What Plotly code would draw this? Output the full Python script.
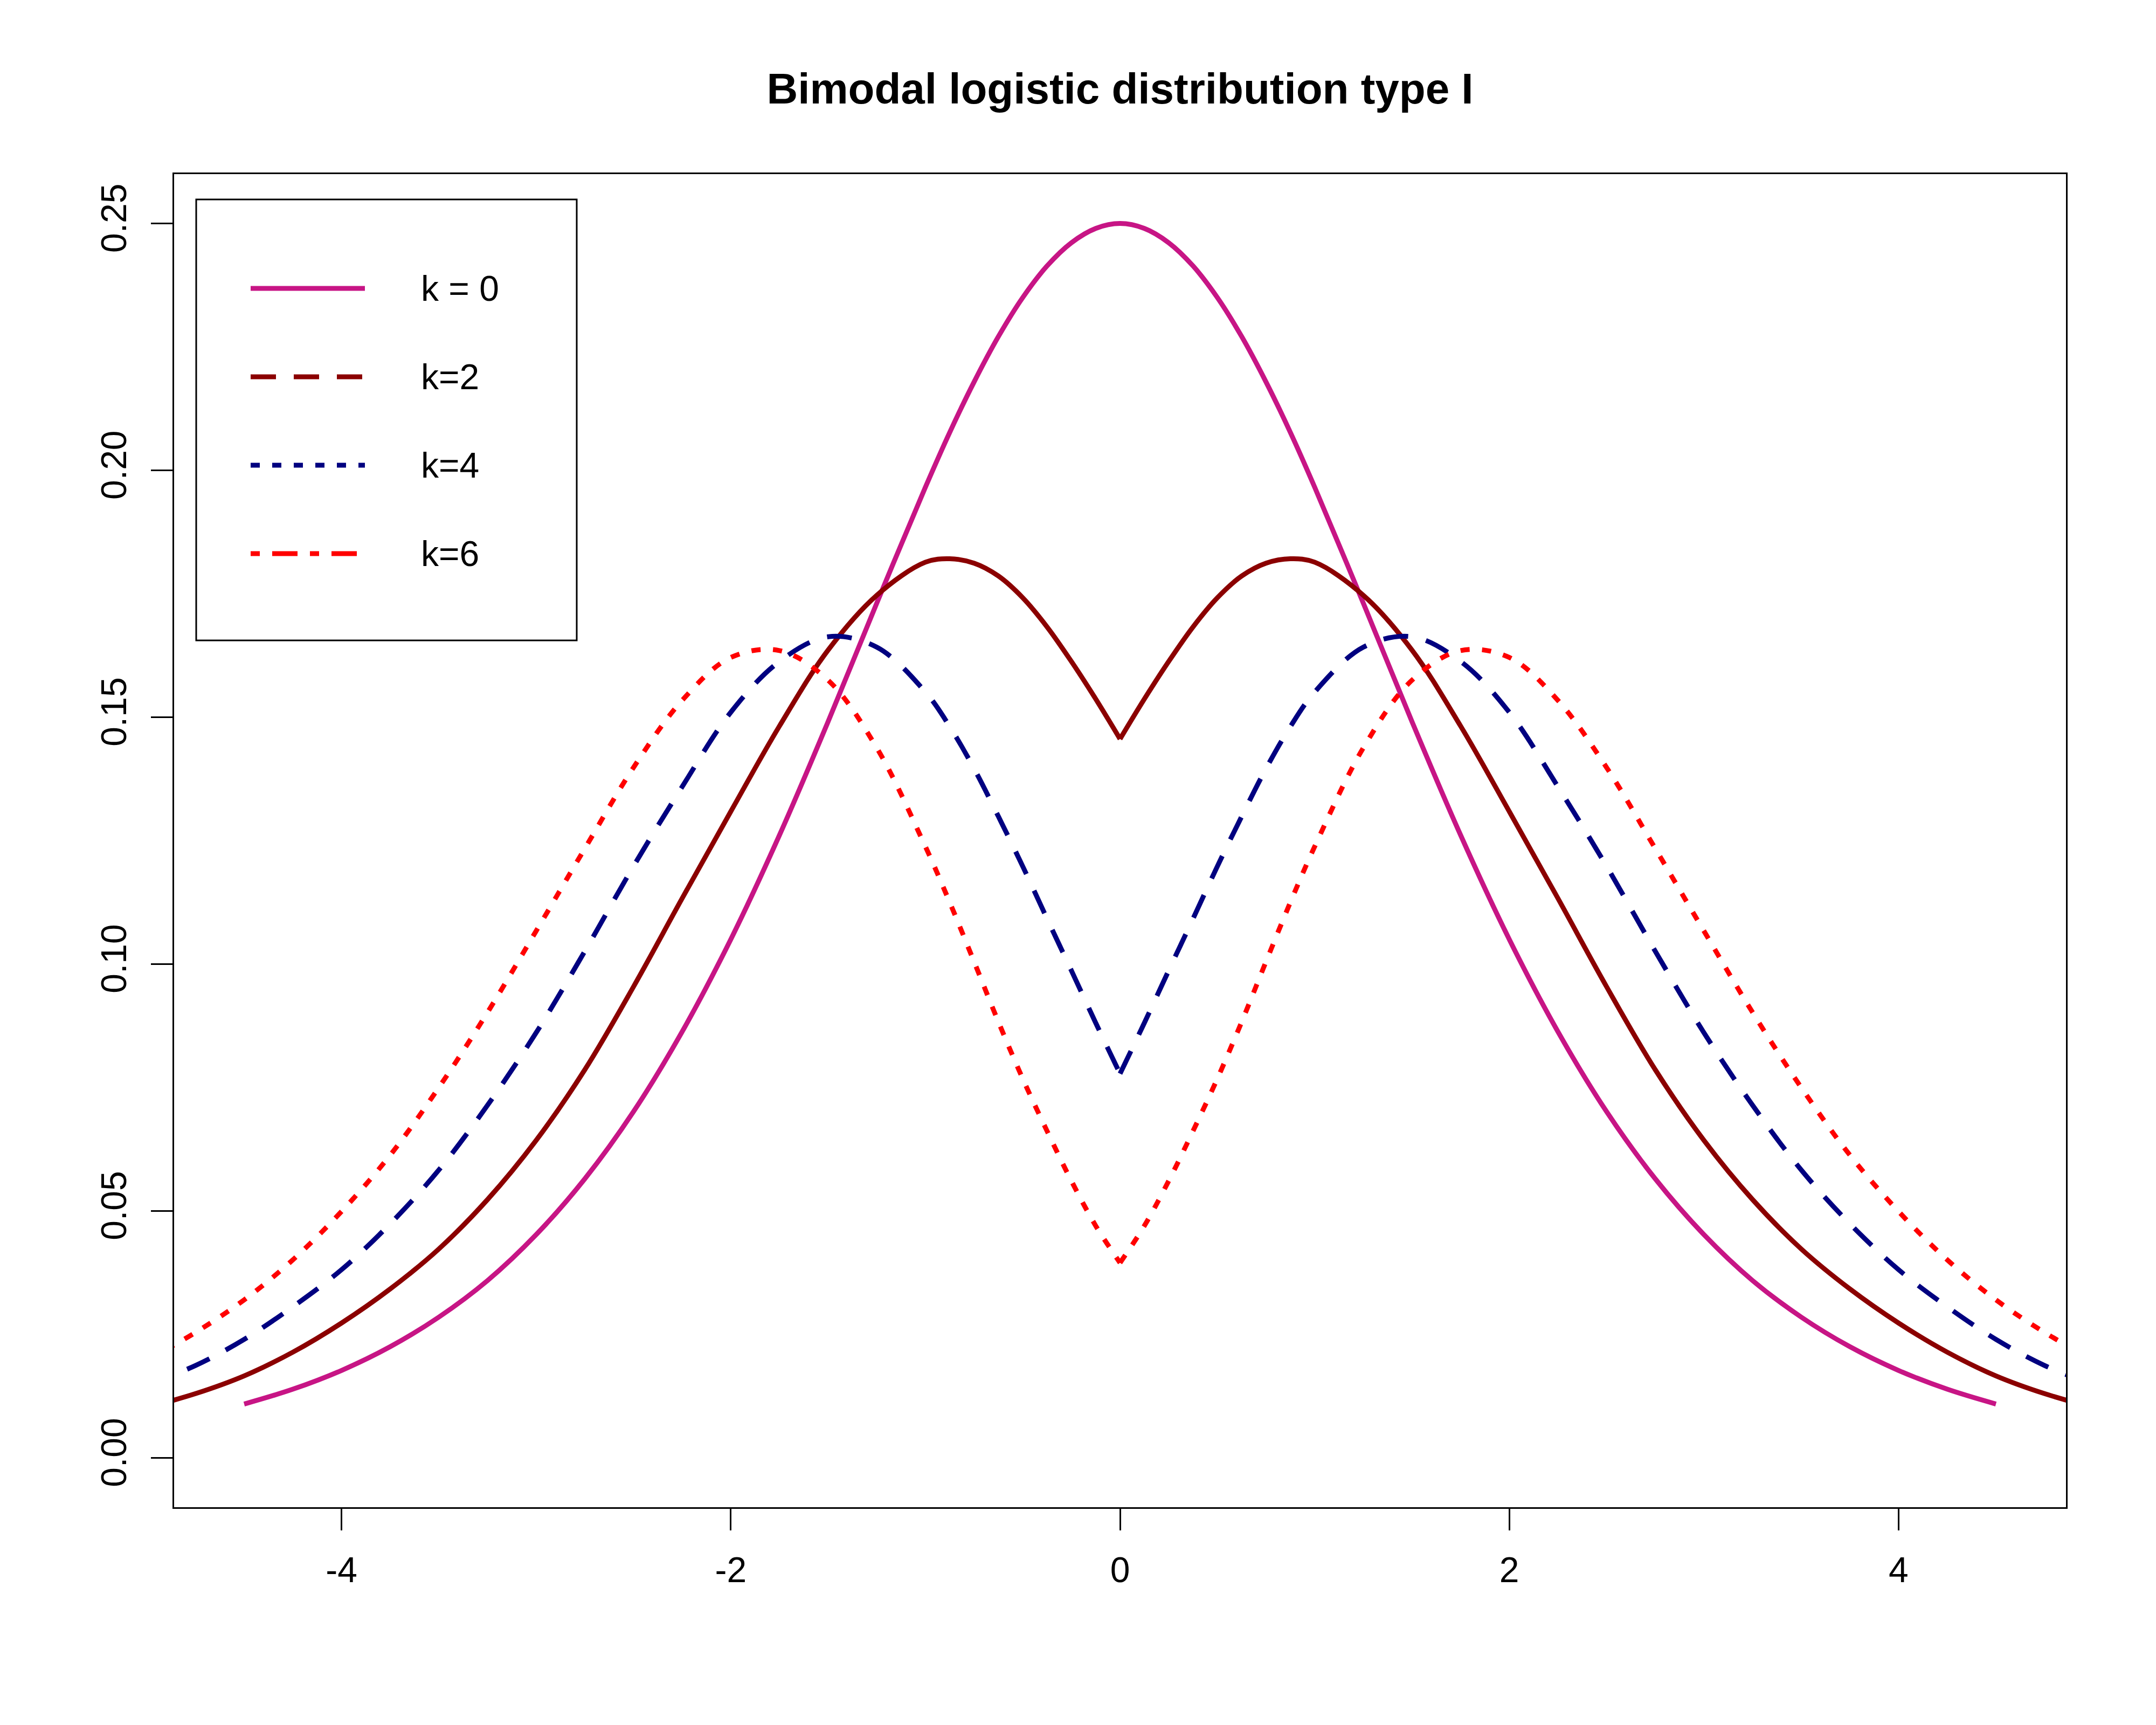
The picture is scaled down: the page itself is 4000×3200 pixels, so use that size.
import plotly.graph_objects as go

# x grid where the curves were read off (denser around the cusp and the inner peaks;
# k = 2, 4, 6 run past the frame and get clipped)
x_grid = [-5.0, -4.75, -4.5, -4.25, -4.0, -3.75, -3.5, -3.25, -3.0, -2.75, -2.5,
          -2.25, -2.0, -1.75, -1.5, -1.25, -1.0, -0.875, -0.75, -0.625, -0.5,
          -0.375, -0.25, -0.125, 0.0, 0.125, 0.25, 0.375, 0.5, 0.625, 0.75,
          0.875, 1.0, 1.25, 1.5, 1.75, 2.0, 2.25, 2.5, 2.75, 3.0,
          3.25, 3.5, 3.75, 4.0, 4.25, 4.5, 4.75, 5.0]

# k = 0 only spans -4.5 .. 4.5
x_k0 = [-4.5, -4.25, -4.0, -3.75, -3.5, -3.25, -3.0, -2.75, -2.5, -2.25, -2.0,
        -1.75, -1.5, -1.25, -1.0, -0.875, -0.75, -0.625, -0.5, -0.375, -0.25, -0.125,
        0.0, 0.125, 0.25, 0.375, 0.5, 0.625, 0.75, 0.875, 1.0, 1.25, 1.5, 1.75,
        2.0, 2.25, 2.5, 2.75, 3.0, 3.25, 3.5, 3.75, 4.0, 4.25, 4.5]
dens_k0 = [0.0109, 0.0139, 0.0177, 0.0225, 0.0285, 0.0359, 0.0452, 0.0565, 0.0701, 0.0863, 0.1050,
           0.1261, 0.1491, 0.1731, 0.1966, 0.2077, 0.2179, 0.2271, 0.2350, 0.2414, 0.2461, 0.2490,
           0.2500, 0.2490, 0.2461, 0.2414, 0.2350, 0.2271, 0.2179, 0.2077, 0.1966, 0.1731, 0.1491, 0.1261,
           0.1050, 0.0863, 0.0701, 0.0565, 0.0452, 0.0359, 0.0285, 0.0225, 0.0177, 0.0139, 0.0109]

dens_k2 = [0.0102, 0.0130, 0.0166, 0.0214, 0.0273, 0.0342, 0.0423, 0.0523, 0.0643, 0.0786, 0.0954,
           0.1133, 0.1309, 0.1482, 0.1636, 0.1747, 0.1814, 0.1821, 0.1812, 0.1786, 0.1742,
           0.1683, 0.1613, 0.1537, 0.1456, 0.1537, 0.1613, 0.1683, 0.1742, 0.1786, 0.1812,
           0.1821, 0.1814, 0.1747, 0.1636, 0.1482, 0.1309, 0.1133, 0.0954, 0.0786, 0.0643,
           0.0523, 0.0423, 0.0342, 0.0273, 0.0214, 0.0166, 0.0130, 0.0102]

dens_k4 = [0.0148, 0.0187, 0.0240, 0.0306, 0.0381, 0.0474, 0.0583, 0.0714, 0.0861, 0.1026, 0.1198,
           0.1359, 0.1510, 0.1613, 0.1663, 0.1642, 0.1551, 0.1481, 0.1396, 0.1299, 0.1198,
           0.1092, 0.0987, 0.0881, 0.0778, 0.0881, 0.0987, 0.1092, 0.1198, 0.1299, 0.1396,
           0.1481, 0.1551, 0.1642, 0.1663, 0.1613, 0.1510, 0.1359, 0.1198, 0.1026, 0.0861,
           0.0714, 0.0583, 0.0474, 0.0381, 0.0306, 0.0240, 0.0187, 0.0148]

dens_k6 = [0.0198, 0.0254, 0.0320, 0.0401, 0.0499, 0.0613, 0.0750, 0.0902, 0.1067, 0.1234, 0.1398,
           0.1534, 0.1621, 0.1635, 0.1575, 0.1438, 0.1238, 0.1125, 0.1005, 0.0883, 0.0768,
           0.0662, 0.0561, 0.0470, 0.0395, 0.0470, 0.0561, 0.0662, 0.0768, 0.0883, 0.1005,
           0.1125, 0.1238, 0.1438, 0.1575, 0.1635, 0.1621, 0.1534, 0.1398, 0.1234, 0.1067,
           0.0902, 0.0750, 0.0613, 0.0499, 0.0401, 0.0320, 0.0254, 0.0198]

legend_labels = ["k = 0", "k=2", "k=4", "k=6"]
x_ticks = [-4, -2, 0, 2, 4]
x_tick_text = ["-4", "-2", "0", "2", "4"]
y_ticks = [0.0, 0.05, 0.10, 0.15, 0.20, 0.25]
y_tick_text = ["0.00", "0.05", "0.10", "0.15", "0.20", "0.25"]

FONT = "Liberation Sans, Arial, Helvetica, sans-serif"
W, H = 4000, 3200
PLOT_L, PLOT_R, PLOT_T, PLOT_B = 323, 3833, 323, 2796
LW = 9
FRAME_W = 3

# how the curves are drawn in the plot (R script used lty 1,1,2,3 here)
curve_styles = [
    ("mediumvioletred", "solid"),
    ("darkred", "solid"),
    ("navy", "46px,34px"),
    ("red", "17px,23px"),
]
# ...and how the legend shows them (lty 1,2,3,4)
legend_dash = ["solid", "47px,33px", "17px,23px", "17px,23px,47px,23px"]


def px_x(p):
    return (p - PLOT_L) / (PLOT_R - PLOT_L)


def px_y(p):
    return (PLOT_B - p) / (PLOT_B - PLOT_T)


fig = go.Figure()

fig.add_trace(go.Scatter(x=x_k0, y=dens_k0, mode="lines",
                         line=dict(color=curve_styles[0][0], width=LW, dash=curve_styles[0][1],
                                   shape="spline"),
                         showlegend=False, hoverinfo="skip"))

# the bimodal curves have a cusp at 0, so each half is its own trace
for dens, (col, dash) in zip([dens_k2, dens_k4, dens_k6], curve_styles[1:]):
    left = [(x, y) for x, y in zip(x_grid, dens) if x <= 0]
    right = [(x, y) for x, y in zip(x_grid, dens) if x >= 0]
    for part in (left, right):
        fig.add_trace(go.Scatter(x=[p[0] for p in part], y=[p[1] for p in part],
                                 mode="lines",
                                 line=dict(color=col, width=LW, dash=dash, shape="spline"),
                                 showlegend=False, hoverinfo="skip"))

# hand-made legend box, like R's legend()
shapes = [dict(type="rect", xref="paper", yref="paper",
               x0=px_x(364), x1=px_x(1070), y0=px_y(1188), y1=px_y(370),
               line=dict(color="black", width=FRAME_W), fillcolor="white", layer="above")]
annotations = []
rows = [535, 699, 863, 1027]
for lab, (col, _), dash, ry in zip(legend_labels, curve_styles, legend_dash, rows):
    shapes.append(dict(type="line", xref="paper", yref="paper",
                       x0=px_x(465), x1=px_x(677), y0=px_y(ry), y1=px_y(ry),
                       line=dict(color=col, width=LW, dash=dash), layer="above"))
    annotations.append(dict(text=lab, xref="paper", yref="paper", x=px_x(779), y=px_y(ry),
                            xanchor="left", yanchor="middle", showarrow=False,
                            font=dict(family=FONT, size=66, color="black")))

axis_common = dict(showline=True, mirror=True, linecolor="black", linewidth=FRAME_W,
                   showgrid=False, zeroline=False, ticks="outside", ticklen=40,
                   tickwidth=FRAME_W, tickcolor="black",
                   tickfont=dict(family=FONT, size=66, color="black"))

fig.update_layout(
    width=W, height=H,
    margin=dict(l=PLOT_L, r=W - PLOT_R, t=PLOT_T, b=H - PLOT_B, autoexpand=False),
    paper_bgcolor="white", plot_bgcolor="white",
    title=dict(text="Bimodal logistic distribution type I", x=0.5, xref="paper",
               xanchor="center", y=(H - 164) / H, yref="container", yanchor="middle",
               font=dict(family=FONT, size=80, color="black", weight="bold")),
    xaxis=dict(range=[-4.86, 4.86], tickvals=x_ticks, ticktext=x_tick_text,
               ticklabelstandoff=17, **axis_common),
    yaxis=dict(range=[-0.01, 0.26], tickvals=y_ticks, ticktext=y_tick_text,
               tickangle=-90, ticklabelstandoff=20, **axis_common),
    shapes=shapes,
    annotations=annotations,
)

fig.write_html("out.html", config={"displayModeBar": False},
               post_script="document.body.style.margin='0';")
